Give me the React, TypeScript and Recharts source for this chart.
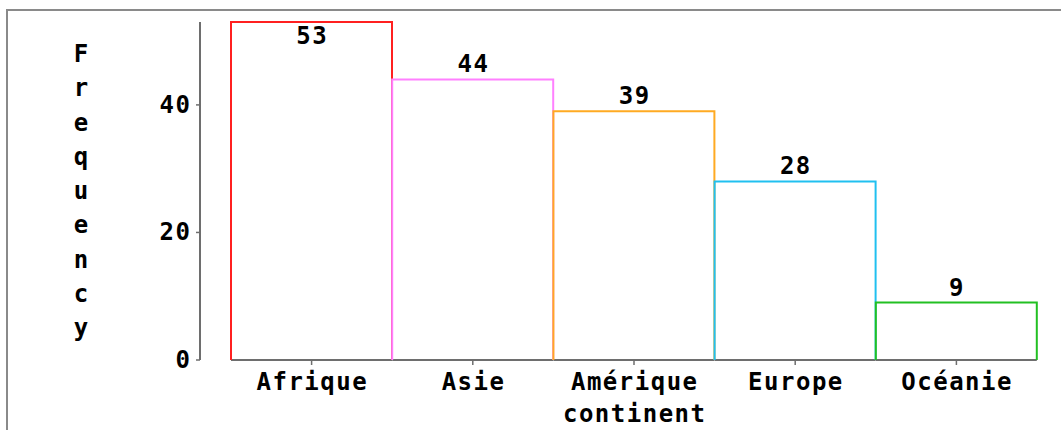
import React from 'react';
import { BarChart, Bar, XAxis, YAxis, LabelList } from 'recharts';

const continents = ['Afrique', 'Asie', 'Amérique', 'Europe', 'Océanie'];
const frequencies = [53, 44, 39, 28, 9];
const barColors = ['#ff2020', '#ff80ff', '#ffaa22', '#20c0f0', '#22c022'];
const yTicks = [0, 20, 40];
const yTitle = 'Frequency';
const xTitle = 'continent';

const data = continents.map((c, i) => ({ continent: c, freq: frequencies[i] }));

const FONT = '"DejaVu Sans Mono", "Liberation Mono", monospace';
const AXIS_GRAY = '#6e6e6e';
const FS = 24;
const LS = 1.5;

const BarShape = (props: any) => {
  const { x, y, width, height, index } = props;
  const color = barColors[index % barColors.length];
  const bottom = y + height;
  return (
    <g>
      <line x1={x} y1={bottom} x2={x + width} y2={bottom} stroke={AXIS_GRAY} strokeWidth={2} />
      <path
        d={`M${x},${bottom} L${x},${y} L${x + width},${y} L${x + width},${bottom}`}
        fill="none"
        stroke={color}
        strokeWidth={2}
      />
    </g>
  );
};

const ValueLabel = (props: any) => {
  const { x, y, width, value } = props;
  const above = y - 7;
  const baseline = above - 17 < 12 ? y + 22 : above;
  return (
    <text
      x={x + width / 2 + LS / 2}
      y={baseline}
      textAnchor="middle"
      fontFamily={FONT}
      fontWeight="bold"
      fontSize={FS}
      letterSpacing={LS}
      fill="#000"
    >
      {value}
    </text>
  );
};

const XTick = (props: any) => {
  const { x, y, payload } = props;
  return (
    <text
      x={x + LS / 2}
      y={y + 23}
      textAnchor="middle"
      fontFamily={FONT}
      fontWeight="bold"
      fontSize={FS}
      letterSpacing={LS}
      fill="#000"
    >
      {payload.value}
    </text>
  );
};

const YTick = (props: any) => {
  const { x, y, payload } = props;
  return (
    <text
      x={x + LS}
      y={y + 8}
      textAnchor="end"
      fontFamily={FONT}
      fontWeight="bold"
      fontSize={FS}
      letterSpacing={LS}
      fill="#000"
    >
      {payload.value}
    </text>
  );
};

const YTitle = (props: any) => {
  const { viewBox } = props;
  const cx = viewBox.x + 81;
  return (
    <text
      x={cx}
      y={62}
      textAnchor="middle"
      fontFamily={FONT}
      fontWeight="bold"
      fontSize={FS}
      fill="#000"
    >
      {yTitle.split('').map((ch, i) => (
        <tspan key={i} x={cx} dy={i === 0 ? 0 : 34.25}>
          {ch}
        </tspan>
      ))}
    </text>
  );
};

const XTitle = (props: any) => {
  const { viewBox } = props;
  const padLeft = 31;
  const cx = viewBox.x + padLeft + (viewBox.width - padLeft) / 2;
  return (
    <text
      x={cx + LS / 2}
      y={422}
      textAnchor="middle"
      fontFamily={FONT}
      fontWeight="bold"
      fontSize={FS}
      letterSpacing={LS}
      fill="#000"
    >
      {xTitle}
    </text>
  );
};

export default function App() {
  return (
    <div style={{ position: 'absolute', left: 0, top: 0, width: 1061, height: 430, overflow: 'hidden', background: '#fff' }}>
      <div
        style={{
          position: 'absolute',
          left: 6,
          top: 9,
          width: 1200,
          height: 600,
          borderLeft: '2px solid #8a8a8a',
          borderTop: '2px solid #8a8a8a',
        }}
      />
      <div style={{ position: 'absolute', left: 0, top: 0 }}>
        <BarChart
          width={1061}
          height={430}
          data={data}
          margin={{ top: 22, right: 24, bottom: 10, left: 0 }}
          barCategoryGap={0}
        >
          <XAxis
            dataKey="continent"
            padding={{ left: 31, right: 0 }}
            axisLine={false}
            tickLine={{ stroke: AXIS_GRAY, strokeWidth: 1.5 }}
            tickSize={5}
            tickMargin={2}
            height={60}
            interval={0}
            tick={<XTick />}
            label={<XTitle />}
          />
          <YAxis
            width={200}
            domain={[0, 53]}
            ticks={yTicks}
            axisLine={{ stroke: AXIS_GRAY, strokeWidth: 2 }}
            tickLine={{ stroke: AXIS_GRAY, strokeWidth: 1.5 }}
            tickSize={4}
            tickMargin={6}
            tick={<YTick />}
            label={<YTitle />}
          />
          <Bar dataKey="freq" shape={<BarShape />} isAnimationActive={false}>
            <LabelList dataKey="freq" content={<ValueLabel />} />
          </Bar>
        </BarChart>
      </div>
    </div>
  );
}
